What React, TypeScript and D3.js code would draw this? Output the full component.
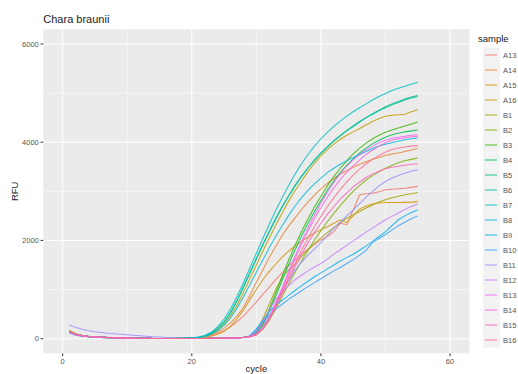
import React from "react";
import * as d3 from "d3";

const cycles = [1,2,3,4,5,6,7,8,9,10,11,12,13,14,15,16,17,18,19,20,21,22,23,24,25,26,27,28,29,30,31,32,33,34,35,36,37,38,39,40,41,42,43,44,45,46,47,48,49,50,51,52,53,54,55];
const samples = ["A13","A14","A15","A16","B1","B2","B3","B4","B5","B6","B7","B8","B9","B10","B11","B12","B13","B14","B15","B16"];
const colors = ["#F8766D","#EA8331","#D89000","#C09B00","#A3A500","#7CAE00","#39B600","#00BB4E","#00BF7D","#00C1A3","#00BFC4","#00BAE0","#00B0F6","#35A2FF","#9590FF","#C77CFF","#E76BF3","#FA62DB","#FF62BC","#FF6C91"];

const A13 = [160,100,70,50,40,32,26,22,18,15,12,10,8,6,5,4,4,5,8,12, 20,35,60,100,160,240,340,460,600,750, 900,1050,1200,1340,1480,1610,1720,1820,1920,2010, 2080,2180,2350,2320,2620,2930,2950,2960,2990,3030, 3040,3050,3060,3080,3100];
const A14 = [140,90,60,45,35,28,22,18,15,12,10,8,6,5,4,4,5,6,9,14, 25,45,80,130,210,320,460,640,880,1150, 1400,1650,1880,2100,2290,2460,2630,2780,2920,3050, 3160,3260,3350,3420,3490,3550,3600,3650,3690,3730, 3760,3780,3810,3840,3870];
const A15 = [130,80,55,40,32,26,21,17,14,11,9,7,6,5,4,4,4,6,8,12, 20,35,55,90,150,250,400,580,800,1000, 1200,1370,1520,1660,1780,1890,1980,2070,2150,2220, 2280,2350,2420,2360,2500,2640,2700,2740,2760,2770, 2770,2770,2775,2780,2790];
const A16 = [150,95,65,48,38,30,24,19,16,13,10,8,6,5,4,4,5,7,10,15, 22,40,90,170,290,460,680,940,1220,1500, 1780,2050,2310,2560,2800,3010,3210,3400,3570,3720, 3850,3960,4060,4140,4210,4280,4350,4420,4480,4530, 4550,4560,4570,4620,4660];
const B1 = [170,100,65,48,38,30,25,20,16,13,10,8,6,5,4,3,3,3,3,4, 4,5,6,8,10,13,18,26,45,150, 400,700,1000,1250,1400,1520,1670,1810,1940,2050, 2160,2260,2360,2450,2520,2590,2660,2720,2780,2830, 2870,2900,2930,2950,2975];
const B2 = [160,95,62,46,36,29,23,19,15,12,10,8,6,5,4,3,3,3,3,4, 4,5,6,7,9,12,17,25,40,80, 190,370,600,860,1110,1350,1580,1800,2010,2200, 2380,2550,2710,2860,3000,3120,3230,3320,3400,3470, 3530,3580,3620,3650,3680];
const B3 = [150,90,60,45,35,28,23,18,15,12,10,8,6,5,4,3,3,3,3,4, 4,5,6,7,9,12,17,26,50,130, 300,600,930,1270,1600,1900,2180,2440,2680,2900, 3110,3300,3470,3620,3760,3880,3980,4070,4140,4200, 4250,4290,4330,4370,4410];
const B4 = [140,85,58,43,34,27,22,18,14,11,9,7,6,5,4,3,3,3,3,4, 4,5,6,7,9,12,17,26,48,120, 280,550,860,1190,1510,1810,2090,2350,2590,2810, 3020,3210,3380,3530,3660,3780,3880,3970,4040,4100, 4150,4180,4210,4230,4250];
const B5 = [140,85,58,43,34,27,22,18,14,11,9,7,6,5,4,5,6,8,12,18, 28,50,110,200,330,520,760,1040,1330,1620, 1900,2170,2430,2680,2900,3110,3300,3470,3630,3770, 3900,4020,4130,4230,4320,4410,4500,4580,4650,4720, 4780,4830,4880,4920,4950];
const B6 = [130,80,55,41,33,26,21,17,14,11,9,7,6,5,5,5,6,8,12,18, 30,55,115,210,345,540,780,1060,1350,1640, 1920,2190,2450,2690,2910,3120,3310,3480,3640,3780, 3910,4030,4140,4240,4330,4420,4500,4570,4640,4700, 4760,4810,4860,4900,4930];
const B7 = [150,90,60,45,35,28,23,18,15,12,10,8,6,5,5,5,6,9,13,20, 32,65,130,240,400,610,860,1140,1440,1740, 2040,2330,2610,2870,3120,3350,3560,3750,3920,4070, 4200,4320,4430,4530,4620,4700,4780,4860,4930,4990, 5050,5100,5140,5180,5220];
const B8 = [145,88,60,44,35,28,22,18,14,11,9,7,6,5,4,5,6,8,11,16, 25,45,90,160,270,420,620,850,1100,1350, 1600,1850,2080,2300,2510,2700,2870,3020,3150,3270, 3380,3470,3550,3620,3690,3750,3810,3870,3920,3960, 3990,4020,4050,4070,4085];
const B9 = [130,80,55,41,33,26,21,17,14,11,9,7,6,5,4,3,3,3,3,4, 4,5,6,7,9,12,17,25,60,200, 380,550,680,780,880,980,1080,1170,1260,1340, 1420,1500,1580,1650,1720,1800,1890,1980,2080,2180, 2300,2420,2500,2570,2620];
const B10 = [120,75,52,40,32,25,20,16,13,10,8,7,6,5,4,3,3,3,3,4, 4,5,6,7,9,12,16,24,50,170, 340,480,600,700,800,890,975,1060,1140,1220, 1300,1380,1450,1530,1610,1700,1800,1960,2040,2120, 2210,2300,2370,2440,2500];
const B11 = [280,230,190,160,140,125,112,100,90,80,70,60,50,40,32,25,18,12,8,6, 5,5,6,7,9,12,17,25,45,100, 250,450,700,950,1180,1400,1560,1700,1830,1950, 2100,2250,2370,2500,2620,2750,2880,3000,3110,3200, 3270,3320,3370,3410,3440];
const B12 = [150,95,65,48,38,30,24,19,15,12,10,8,6,5,4,3,3,3,3,4, 4,5,6,7,9,12,17,25,50,150, 350,580,800,950,1080,1200,1290,1380,1460,1530, 1620,1720,1810,1900,1990,2080,2170,2250,2340,2420, 2490,2560,2630,2690,2740];
const B13 = [140,85,58,43,34,27,22,18,14,11,9,7,6,5,4,3,3,3,3,4, 4,5,6,7,9,12,17,25,40,90, 220,430,720,1040,1370,1680,1980,2260,2520,2760, 2980,3180,3360,3510,3640,3750,3840,3920,3990,4040, 4080,4100,4120,4140,4150];
const B14 = [135,82,56,42,33,26,21,17,14,11,9,7,6,5,4,3,3,3,3,4, 4,5,6,7,9,12,16,24,38,85, 210,410,690,1000,1320,1630,1920,2190,2440,2670, 2880,3070,3240,3390,3520,3640,3750,3840,3920,3990, 4040,4070,4090,4110,4120];
const B15 = [145,88,60,44,35,28,22,18,14,11,9,7,6,5,4,3,3,3,3,4, 4,5,6,7,9,12,16,24,38,80, 200,390,640,920,1200,1470,1720,1950,2160,2350, 2530,2690,2840,2970,3090,3190,3280,3350,3410,3460, 3490,3510,3530,3550,3560];
const B16 = [150,90,60,45,35,28,23,18,15,12,10,8,6,5,4,3,3,3,3,4, 4,5,6,7,9,12,17,25,40,85, 210,400,660,950,1250,1530,1800,2050,2280,2490, 2690,2870,3040,3190,3330,3450,3560,3650,3730,3800, 3850,3880,3900,3920,3930];

const seriesValues = [A13,A14,A15,A16,B1,B2,B3,B4,B5,B6,B7,B8,B9,B10,B11,B12,B13,B14,B15,B16];
const xTicks = [0,20,40,60];
const xMinor = [10,30,50];
const yTicks = [0,2000,4000,6000];
const yMinor = [1000,3000,5000];

const FONT = "'Liberation Sans', Arial, Helvetica, sans-serif";

export default function App() {
  const W = 518, H = 374;
  const left = 43.3, right = 469.4, top = 29.2, bottom = 353.4;
  const x = d3.scaleLinear().domain([-3, 63]).range([left, right]);
  const y = d3.scaleLinear().domain([-300, 6300]).range([bottom, top]);
  const line = d3.line<number>().x((_, i) => x(cycles[i])).y((d) => y(d)).curve(d3.curveLinear);

  const legX = 483, legTop = 47.5, keyH = 15;

  return (
    <svg width={W} height={H} style={{ position: "absolute", left: 0, top: 0, background: "#fff" }} fontFamily={FONT}>
      <rect x={0} y={0} width={W} height={H} fill="#fff" />
      <text x={left} y={22.5} fontSize={11} fill="#1a1a1a">Chara braunii</text>
      <rect x={left} y={top} width={right - left} height={bottom - top} fill="#EBEBEB" />
      {yMinor.map((t) => (
        <line key={"ym" + t} x1={left} x2={right} y1={y(t)} y2={y(t)} stroke="#fff" strokeWidth={0.5} />
      ))}
      {xMinor.map((t) => (
        <line key={"xm" + t} x1={x(t)} x2={x(t)} y1={top} y2={bottom} stroke="#fff" strokeWidth={0.5} />
      ))}
      {yTicks.map((t) => (
        <line key={"yM" + t} x1={left} x2={right} y1={y(t)} y2={y(t)} stroke="#fff" strokeWidth={1.05} />
      ))}
      {xTicks.map((t) => (
        <line key={"xM" + t} x1={x(t)} x2={x(t)} y1={top} y2={bottom} stroke="#fff" strokeWidth={1.05} />
      ))}
      <g clipPath="url(#panelclip)">
        <defs>
          <clipPath id="panelclip">
            <rect x={left} y={top} width={right - left} height={bottom - top} />
          </clipPath>
        </defs>
        {seriesValues.map((vals, i) => (
          <path key={samples[i]} d={line(vals) || ""} fill="none" stroke={colors[i]} strokeWidth={1.05} strokeOpacity={0.85} />
        ))}
      </g>
      {yTicks.map((t) => (
        <g key={"yt" + t}>
          <line x1={left - 2.75} x2={left} y1={y(t)} y2={y(t)} stroke="#333" strokeWidth={1} />
          <text x={left - 4.5} y={y(t)} dy="0.35em" textAnchor="end" fontSize={7.5} fill="#555">{t}</text>
        </g>
      ))}
      {xTicks.map((t) => (
        <g key={"xt" + t}>
          <line x1={x(t)} x2={x(t)} y1={bottom} y2={bottom + 2.75} stroke="#333" strokeWidth={1} />
          <text x={x(t)} y={bottom + 10.5} textAnchor="middle" fontSize={7.5} fill="#555">{t}</text>
        </g>
      ))}
      <text x={(left + right) / 2} y={372} textAnchor="middle" fontSize={9.5} fill="#1a1a1a">cycle</text>
      <text transform={`translate(18,${(top + bottom) / 2}) rotate(-90)`} textAnchor="middle" fontSize={9.5} fill="#1a1a1a">RFU</text>
      <text x={478} y={42} fontSize={9.5} fill="#1a1a1a">sample</text>
      {samples.map((s, i) => {
        const cy = legTop + i * keyH + keyH / 2;
        return (
          <g key={"lg" + s}>
            <rect x={legX} y={legTop + i * keyH} width={17} height={keyH} fill="#F2F2F2" />
            <line x1={legX + 2} x2={legX + 14} y1={cy} y2={cy} stroke={colors[i]} strokeWidth={1.05} strokeOpacity={0.85} />
            <text x={503} y={cy} dy="0.35em" fontSize={7.5} fill="#555">{s}</text>
          </g>
        );
      })}
    </svg>
  );
}
